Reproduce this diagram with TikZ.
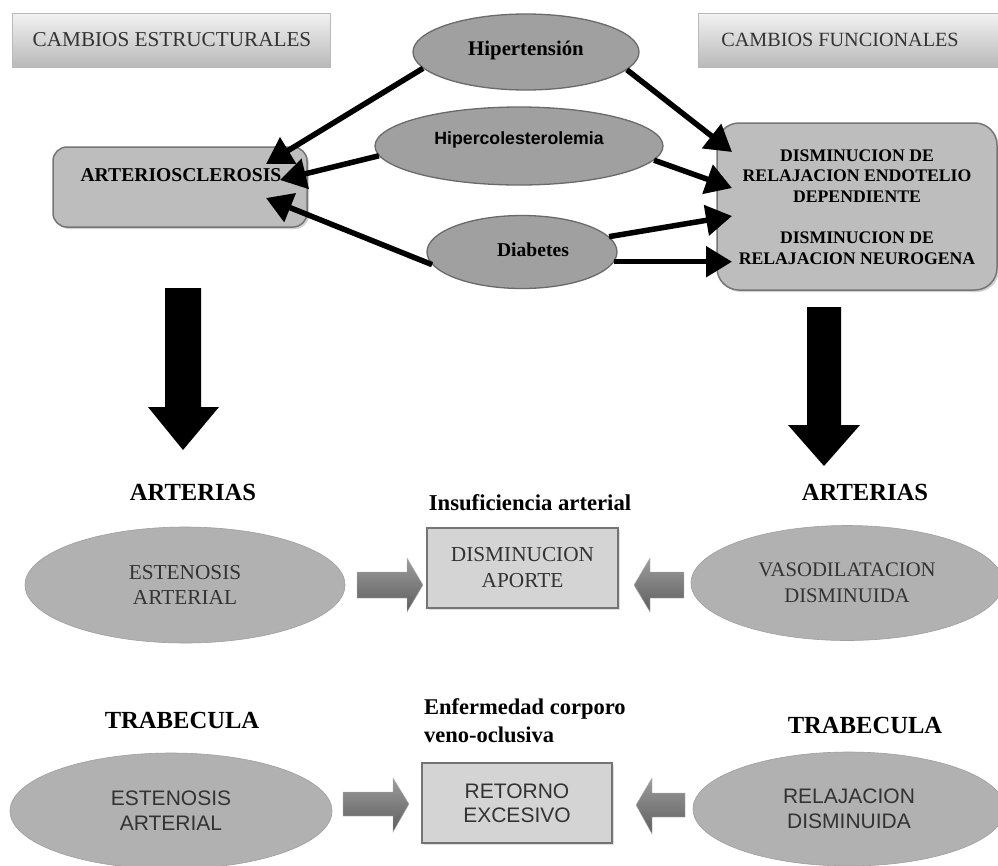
\documentclass[tikz,border=0pt]{standalone}
\usepackage{fontspec}
\setmainfont{Liberation Serif}
\newfontfamily\sansf{Liberation Sans}
\usetikzlibrary{arrows.meta,shapes.geometric,shadows,calc}
\definecolor{ellTop}{HTML}{A0A0A0}
\definecolor{ellBorder}{HTML}{6A6A6A}
\definecolor{ellBot}{HTML}{B1B1B1}
\definecolor{boxFill}{HTML}{BDBDBD}
\definecolor{boxBorder}{HTML}{767676}
\definecolor{midFill}{HTML}{D4D4D4}
\definecolor{midBorder}{HTML}{747474}
\definecolor{txtGray}{HTML}{333333}
\definecolor{garrowA}{HTML}{9C9C9C}
\definecolor{garrowB}{HTML}{5E5E5E}
\tikzset{
  x=1pt,y=-1pt,
  header/.style={draw=gray!55,line width=0.8pt,top color=gray!10,bottom color=gray!55,shading angle=0},
  topell/.style={ellipse,draw=ellBorder,line width=1.3pt,fill=ellTop,inner sep=0pt},
  botell/.style={ellipse,draw=ellBot!90!black,line width=0.6pt,fill=ellBot,inner sep=0pt,align=center,text=txtGray},
  rbox/.style={rounded corners=14pt,draw=boxBorder,line width=1.5pt,fill=boxFill,
     drop shadow={opacity=0.35,shadow xshift=2pt,shadow yshift=-2pt}},
  midbox/.style={draw=midBorder,line width=2.2pt,fill=midFill,inner sep=0pt,align=center,text=txtGray,
     drop shadow={opacity=0.25,shadow xshift=2pt,shadow yshift=-2pt}},
  conn/.style={line width=5.5pt,-{Triangle[length=26pt,width=30pt]}},
  bigarrow/.style={fill=black},
  grayarrow/.style={top color=garrowA,bottom color=garrowB,draw=gray!60,line width=0.4pt},
  lbl/.style={inner sep=0pt,font=\fontsize{24.6}{28}\selectfont\bfseries},
}
\begin{document}
\begin{tikzpicture}
\useasboundingbox (0,0) rectangle (998,865);
\fill[white] (0,0) rectangle (998,865);

% header boxes
\shade[header] (12,13) rectangle (330,67);
\node[inner sep=0pt,text=txtGray,font=\fontsize{21.2}{24}\selectfont] (hl) at (172,40) {CAMBIOS ESTRUCTURALES};
\shade[header] (698,13) rectangle (1000,67);
\node[inner sep=0pt,text=txtGray,font=\fontsize{20.2}{24}\selectfont] (hr) at (840,40) {CAMBIOS FUNCIONALES};

% left rounded box
\node[rbox,minimum width=254pt,minimum height=80pt,inner sep=0pt] (art) at (180,187) {};
\node[inner sep=0pt,font=\fontsize{19.6}{22}\selectfont\bfseries] (artt) at (181,175) {ARTERIOSCLEROSIS};

% right rounded box
\node[rbox,rounded corners=22pt,minimum width=280pt,minimum height=167pt,inner sep=0pt] (fun) at (857,206.5) {};
\node[inner sep=0pt,align=center,font=\fontsize{17.7}{20.5}\selectfont\bfseries] (funt) at (857,207) {DISMINUCION DE\\RELAJACION ENDOTELIO\\DEPENDIENTE\\[21pt]DISMINUCION DE\\RELAJACION NEUROGENA};

% risk factor ellipses
\node[topell,minimum width=226pt,minimum height=76pt] (hip) at (526,52) {};
\node[inner sep=0pt,font=\fontsize{20.8}{22}\selectfont\bfseries] at (526,50) {Hipertensión};
\node[topell,minimum width=288pt,minimum height=78pt] (hc) at (519,146) {};
\node[inner sep=0pt,font=\sansf\fontsize{17.7}{20}\selectfont\bfseries] at (519,140) {Hipercolesterolemia};
\node[topell,minimum width=190pt,minimum height=73pt] (dia) at (522,252) {};
\node[inner sep=0pt,font=\fontsize{19.6}{22}\selectfont\bfseries] at (533,250) {Diabetes};

% tip coordinates
\coordinate (t1) at (266,164);
\coordinate (t2) at (280,180);
\coordinate (t3) at (266,198);
\coordinate (t4) at (732,152);
\coordinate (t5) at (732,188);
\coordinate (t6) at (732,216);
\coordinate (t7) at (732,262);

\draw[conn] (hip.189) -- (t1);
\draw[conn] (hc.184) -- (t2);
\draw[conn] (dia.188) -- (t3);
\draw[conn] (hip.350) -- (t4);
\draw[conn] (hc.354) -- (t5);
\draw[conn] (dia.10) -- (t6);
\draw[conn] (dia.354) -- (t7 |- dia.354);

% big black arrows
\fill[bigarrow] (165,288) -- (201,288) -- (201,407) -- (219,407) -- (183,450) -- (148,407) -- (165,407) -- cycle;
\fill[bigarrow] (807,307) -- (841,307) -- (841,425) -- (860,425) -- (824,466) -- (788,425) -- (807,425) -- cycle;

% labels
\node[lbl] (la1) at (193,492) {ARTERIAS};
\node[lbl] (la2) at (865,492) {ARTERIAS};
\node[lbl] (lt1) at (182,720) {TRABECULA};
\node[lbl] (lt2) at (865,725) {TRABECULA};
\node[inner sep=0pt,font=\fontsize{22.7}{27}\selectfont\bfseries] (ins) at (530,503) {Insuficiencia arterial};
\node[inner sep=0pt,anchor=west,align=left,font=\fontsize{22.5}{28}\selectfont\bfseries] (enf) at (424,721) {Enfermedad corporo\\veno-oclusiva};

% bottom ellipses
\node[botell,minimum width=320pt,minimum height=116pt,font=\fontsize{21.3}{25}\selectfont] (e1) at (185,585) {ESTENOSIS\\ARTERIAL};
\node[botell,minimum width=312pt,minimum height=115pt,font=\fontsize{20.7}{26}\selectfont] (e2) at (847,583) {VASODILATACION\\DISMINUIDA};
\node[botell,minimum width=322pt,minimum height=116pt,font=\sansf\fontsize{21}{25}\selectfont] (e3) at (171,811) {ESTENOSIS\\ARTERIAL};
\node[botell,minimum width=312pt,minimum height=114pt,font=\sansf\fontsize{21}{25}\selectfont] (e4) at (849,809) {RELAJACION\\DISMINUIDA};

% middle boxes
\node[midbox,minimum width=191pt,minimum height=80pt,font=\fontsize{21.3}{26}\selectfont] (m1) at (522.5,568) {DISMINUCION\\APORTE};
\node[midbox,minimum width=190pt,minimum height=80pt,font=\sansf\fontsize{21}{24}\selectfont] (m2) at (517,803) {RETORNO\\EXCESIVO};

% gray block arrows
\path[grayarrow] (357,572) -- (407,572) -- (407,558) -- (423,585) -- (407,612) -- (407,598) -- (357,598) -- cycle;
\path[grayarrow] (684,572) -- (650,572) -- (650,558) -- (634,585) -- (650,612) -- (650,598) -- (684,598) -- cycle;
\path[grayarrow] (343,792) -- (393,792) -- (393,778) -- (409,804) -- (393,832) -- (393,816) -- (343,816) -- cycle;
\path[grayarrow] (685,793) -- (652,793) -- (652,778) -- (636,805) -- (652,834) -- (652,817) -- (685,817) -- cycle;
\end{tikzpicture}
\end{document}
